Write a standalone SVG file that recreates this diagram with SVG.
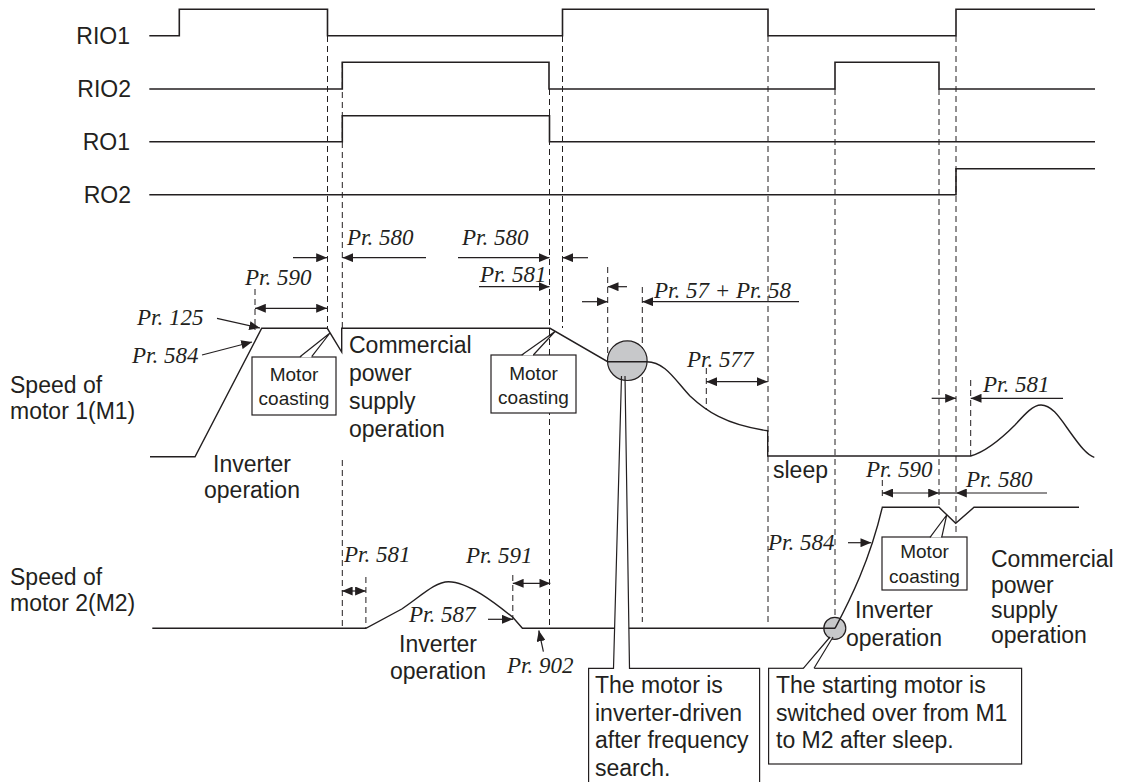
<svg xmlns="http://www.w3.org/2000/svg" width="1121" height="782" viewBox="0 0 1121 782">
<defs>
<marker id="ah" viewBox="0 0 12 10" refX="12" refY="5" markerWidth="11" markerHeight="9" markerUnits="userSpaceOnUse" orient="auto-start-reverse">
<path d="M0,0 L12,5 L0,10 z" fill="#231f20"/>
</marker>
<style>
.sig{fill:none;stroke:#231f20;stroke-width:1.6}
.crv{fill:none;stroke:#231f20;stroke-width:1.4}
.dash{fill:none;stroke:#231f20;stroke-width:1;stroke-dasharray:6,4}
.ar{fill:none;stroke:#231f20;stroke-width:1.2;marker-end:url(#ah)}
.dar{fill:none;stroke:#231f20;stroke-width:1.2;marker-end:url(#ah);marker-start:url(#ah)}
.ln{fill:none;stroke:#231f20;stroke-width:1.2}
.box{fill:#fff;stroke:#231f20;stroke-width:1.2}
.t{font-family:"Liberation Sans",Arial,sans-serif;font-size:23px;fill:#231f20}
.tc{font-family:"Liberation Sans",Arial,sans-serif;font-size:23px;fill:#231f20;text-anchor:middle}
.tr{font-family:"Liberation Sans",Arial,sans-serif;font-size:23px;fill:#231f20;text-anchor:end}
.mc{font-family:"Liberation Sans",Arial,sans-serif;font-size:19px;fill:#231f20;text-anchor:middle}
.pr{font-family:"Liberation Serif","Times New Roman",serif;font-style:italic;font-size:23px;fill:#231f20}
.dot{fill:#c7c8ca;stroke:#231f20;stroke-width:1.2}
</style>
</defs>
<rect width="1121" height="782" fill="#fff"/>

<g id="guides">
<path class="dash" d="M327.5,36 V328 M342.3,62 V328 M342.3,460 V628 M549.5,89 V628 M562.5,36 V328 M607.7,267 V361 M642.3,287 V622 M706.3,368 V410 M768,36 V622 M835,89 V617 M939,89 V507 M956,36 V535 M970.7,380 V456 M882.3,480 V497 M255,289 V330 M365.9,577 V628 M512.8,575 V620"/>
</g>

<g id="signals">
<path id="RIO1" class="sig" d="M149.3,35.7 H179.3 V9.3 H327.5 V35.7 H562.5 V9.3 H768 V35.7 H956 V9.3 H1095"/>
<path id="RIO2" class="sig" d="M149.3,89 H342.3 V62.3 H549 V89 H835 V62.3 H939 V89 H1095"/>
<path id="RO1" class="sig" d="M149.3,141.7 H342.3 V115.7 H549.5 V141.7 H1095"/>
<path id="RO2" class="sig" d="M149.3,194.7 H956 V168.7 H1095"/>
<text class="tr" x="130" y="44">RIO1</text>
<text class="tr" x="131" y="97">RIO2</text>
<text class="tr" x="130" y="150">RO1</text>
<text class="tr" x="131" y="203">RO2</text>
</g>

<g id="circles">
<circle class="dot" cx="627.3" cy="360.7" r="19.8"/>
<circle class="dot" cx="834.8" cy="628.3" r="11"/>
</g>

<g id="speed-m1">
<path class="crv" d="M150,456.7 H195 L261.7,328.3 H327.3 L341.7,352 V328.3 H550 L607.7,361.7 H646.7 C665,361.7 675,380 690,396 C705,410 725,425 767.7,430.7 V456 H970.7 C985,452 1000,440 1015,425 C1025,414 1033,405 1041,405 C1052,405 1060,418 1070,432 C1080,446 1087,455 1094.3,457.3"/>
<text class="t" x="10" y="393">Speed of</text>
<text class="t" x="10" y="419">motor 1(M1)</text>
</g>

<g id="speed-m2">
<path class="crv" d="M152.3,628.3 H365.9 L401.8,609 C420,597 435,581.7 448.5,581.7 C468,581.7 495,603 512.8,617.3 L522.4,628.3 H835"/>
<path class="crv" d="M835,628.3 C850,600 870,560 882.3,507.3 H939 L955.7,523.3 L974,507.3 H1079"/>
<text class="t" x="10" y="585">Speed of</text>
<text class="t" x="10" y="611">motor 2(M2)</text>
</g>

<g id="connectors">
<path class="ar" d="M293,257.7 H327"/>
<path class="ar" d="M426,257.7 H342.5"/>
<path class="dar" d="M255,308.3 H327"/>
<path class="ar" d="M217,318.3 L260,328"/>
<path class="ar" d="M202,355 L252,342"/>
<path class="ar" d="M458,257.7 H549.5"/>
<path class="ar" d="M588,257.7 H562.5"/>
<path class="ar" d="M479,286.7 H549.5"/>
<path class="ar" d="M627,286.7 H607.7"/>
<path class="ar" d="M582,301.7 H607.7"/>
<path class="ar" d="M799,301.7 H642.3"/>
<path class="dar" d="M706.3,381.7 H767.7"/>
<path class="ar" d="M931.7,398.3 H956"/>
<path class="ar" d="M1063,398.3 H970.7"/>
<path class="dar" d="M882.3,493 H939"/>
<path class="ln" d="M939,493 H956"/>
<path class="ar" d="M1047,493 H956"/>
<path class="ar" d="M848,542.7 H871.3"/>
<path class="dar" d="M341.8,591 H365.9"/>
<path class="dar" d="M512.8,583.3 H550.3"/>
<path class="ar" d="M488,619.3 H512.8"/>
<path class="ar" d="M543.4,651.7 L538.8,630.5"/>
</g>

<g id="pr-labels">
<text class="pr" x="347" y="245">Pr. 580</text>
<text class="pr" x="245" y="285">Pr. 590</text>
<text class="pr" x="137" y="325">Pr. 125</text>
<text class="pr" x="132" y="363">Pr. 584</text>
<text class="pr" x="462" y="245">Pr. 580</text>
<text class="pr" x="480" y="282">Pr. 581</text>
<text class="pr" x="654" y="298">Pr. 57 + Pr. 58</text>
<text class="pr" x="687" y="367">Pr. 577</text>
<text class="pr" x="983" y="392">Pr. 581</text>
<text class="pr" x="866" y="477">Pr. 590</text>
<text class="pr" x="966" y="487">Pr. 580</text>
<text class="pr" x="768" y="550">Pr. 584</text>
<text class="pr" x="344" y="562">Pr. 581</text>
<text class="pr" x="466" y="563">Pr. 591</text>
<text class="pr" x="409" y="622">Pr. 587</text>
<text class="pr" x="507" y="673">Pr. 902</text>
</g>

<g id="op-labels">
<text class="t" x="349" y="353">Commercial</text>
<text class="t" x="349" y="381">power</text>
<text class="t" x="349" y="409">supply</text>
<text class="t" x="349" y="437">operation</text>
<text class="tc" x="252" y="472">Inverter</text>
<text class="tc" x="252" y="498">operation</text>
<text class="t" x="773" y="478">sleep</text>
<text class="tc" x="438" y="652">Inverter</text>
<text class="tc" x="438" y="679">operation</text>
<text class="tc" x="894" y="618">Inverter</text>
<text class="tc" x="894" y="646">operation</text>
<text class="t" x="991" y="567">Commercial</text>
<text class="t" x="991" y="593">power</text>
<text class="t" x="991" y="618">supply</text>
<text class="t" x="991" y="643">operation</text>
</g>

<g id="coast1">
<rect class="box" x="252" y="357" width="84" height="58"/>
<polygon points="300.6,357.6 311.1,357.6 330,333" fill="#fff"/>
<path class="ln" d="M300,356.7 L330,333 M311.7,356.7 L330,333"/>
<text class="mc" x="294" y="381">Motor</text>
<text class="mc" x="294" y="405">coasting</text>
</g>

<g id="coast2">
<rect class="box" x="491" y="355" width="85" height="58"/>
<polygon points="522.3,355.6 532.7,355.6 555,331.5" fill="#fff"/>
<path class="ln" d="M521.7,355 L555,331.5 M533.3,355 L555,331.5"/>
<text class="mc" x="533.5" y="380">Motor</text>
<text class="mc" x="533.5" y="404">coasting</text>
</g>

<g id="coast3">
<rect class="box" x="882" y="537" width="85" height="53"/>
<polygon points="930.6,537.6 941.1,537.6 946.7,515" fill="#fff"/>
<path class="ln" d="M930,537.3 L946.7,515 M941.7,537.3 L946.7,515"/>
<text class="mc" x="924.5" y="558">Motor</text>
<text class="mc" x="924.5" y="583">coasting</text>
</g>

<g id="note-search">
<rect x="588.6" y="668.3" width="171" height="130" fill="#fff"/>
<polygon points="622,382 624.6,382 629.5,669 613.5,669" fill="#fff"/>
<path class="ln" d="M621.5,376 L613.5,668.3 H588.6 V790 M625,376 L629.5,668.3 H759.6 V790"/>
<text class="t" x="595" y="693">The motor is</text>
<text class="t" x="595" y="721">inverter-driven</text>
<text class="t" x="595" y="748">after frequency</text>
<text class="t" x="595" y="776">search.</text>
</g>

<g id="note-switch">
<rect class="box" x="768.6" y="668.3" width="253" height="95.7"/>
<polygon points="830.5,638 832.5,638 814,669 803.3,669" fill="#fff"/>
<path class="ln" d="M830,637 L803.3,668.3 M833,637 L814,668.3"/>
<text class="t" x="776" y="693">The starting motor is</text>
<text class="t" x="776" y="721">switched over from M1</text>
<text class="t" x="776" y="748">to M2 after sleep.</text>
</g>
</svg>
